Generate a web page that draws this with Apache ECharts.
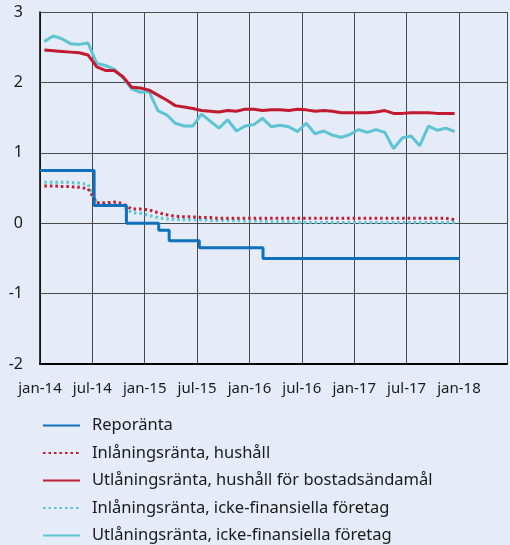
<!DOCTYPE html>
<html>
<head>
<meta charset="utf-8">
<script src="https://cdn.jsdelivr.net/npm/echarts@6/dist/echarts.min.js"></script>
<style>
  html, body { margin: 0; padding: 0; background: #e5ebf7; }
  #chart { width: 510px; height: 545px; }
</style>
</head>
<body>
<div id="chart"></div>
<script>
// months counted from jan-14 (0); monthly values sit mid-month
const tickLabels = ['jan-14', 'jul-14', 'jan-15', 'jul-15', 'jan-16', 'jul-16', 'jan-17', 'jul-17', 'jan-18']

// repo rate: change dates (months from jan-14) and new level
const repoDates = [0, 6.2, 9.9, 13.6, 14.8, 18.25, 25.55, 48.1]
const repoValues = [0.75, 0.25, 0, -0.1, -0.25, -0.35, -0.5, -0.5]

const depositHouseholds = [
  0.53, 0.53, 0.52, 0.52, 0.51, 0.49, 0.29, 0.29, 0.30, 0.28, 0.20, 0.20,
  0.19, 0.15, 0.12, 0.10, 0.09, 0.09, 0.08, 0.08, 0.07, 0.07, 0.07, 0.07,
  0.07, 0.07, 0.07, 0.07, 0.07, 0.07, 0.07, 0.07, 0.07, 0.07, 0.07, 0.07,
  0.07, 0.07, 0.07, 0.07, 0.07, 0.07, 0.07, 0.07, 0.07, 0.07, 0.07, 0.05,
]
const lendingHouseholds = [
  2.46, 2.45, 2.44, 2.43, 2.42, 2.39, 2.22, 2.17, 2.17, 2.08, 1.93, 1.92,
  1.89, 1.82, 1.75, 1.67, 1.65, 1.63, 1.60, 1.59, 1.58, 1.60, 1.59, 1.62,
  1.62, 1.60, 1.61, 1.61, 1.60, 1.62, 1.61, 1.59, 1.60, 1.59, 1.57, 1.57,
  1.57, 1.57, 1.58, 1.60, 1.56, 1.56, 1.57, 1.57, 1.57, 1.56, 1.56, 1.56,
]
const depositCorporate = [
  0.58, 0.58, 0.58, 0.58, 0.57, 0.55, 0.28, 0.27, 0.27, 0.25, 0.15, 0.14,
  0.11, 0.08, 0.06, 0.055, 0.05, 0.05, 0.05, 0.04, 0.04, 0.04, 0.04, 0.03,
  0.03, 0.03, 0.02, 0.02, 0.02, 0.01, 0.01, 0.01, 0.01, 0.01, 0.01, 0.01,
  0.01, 0.01, 0.01, 0.01, 0.01, 0.01, 0.01, 0.01, 0.01, 0.01, 0.01, 0.01,
]
const lendingCorporate = [
  2.58, 2.66, 2.62, 2.55, 2.54, 2.56, 2.27, 2.24, 2.19, 2.07, 1.91, 1.86,
  1.87, 1.60, 1.54, 1.42, 1.38, 1.38, 1.55, 1.45, 1.35, 1.47, 1.31, 1.38,
  1.40, 1.49, 1.37, 1.39, 1.37, 1.30, 1.42, 1.27, 1.31, 1.25, 1.22, 1.26,
  1.33, 1.29, 1.33, 1.29, 1.06, 1.21, 1.24, 1.10, 1.38, 1.32, 1.35, 1.30,
]

const monthly = (vals) => vals.map((v, i) => [i + 0.5, v])

const chart = echarts.init(document.getElementById('chart'))
const font = 'Noto Sans'
chart.setOption({
  backgroundColor: '#e5ebf7',
  animation: false,
  textStyle: { fontFamily: font },
  grid: { left: 40, right: 0, top: 12, height: 352 },
  legend: {
    orient: 'vertical',
    left: 42,
    top: 417,
    height: 160,
    padding: 0,
    itemWidth: 37,
    itemHeight: 14,
    itemGap: 10.5,
    itemStyle: { opacity: 0 },
    textStyle: { fontFamily: font, fontSize: 16.5, color: '#1a1a1a', padding: [0, 0, 0, 7] },
    data: [
      'Reporänta',
      'Inlåningsränta, hushåll',
      'Utlåningsränta, hushåll för bostadsändamål',
      'Inlåningsränta, icke-finansiella företag',
      'Utlåningsränta, icke-finansiella företag',
    ],
  },
  xAxis: {
    type: 'value',
    min: 0,
    max: 53.5,
    interval: 6,
    axisLine: { onZero: false, lineStyle: { color: '#000', width: 2 } },
    axisTick: { show: false },
    axisLabel: {
      fontSize: 15,
      color: '#1a1a1a',
      margin: 17,
      formatter: (v) => (v % 6 === 0 ? tickLabels[v / 6] || '' : ''),
    },
    splitLine: { show: true, lineStyle: { color: '#4a4a4a', width: 1 } },
  },
  yAxis: {
    type: 'value',
    min: -2,
    max: 3,
    interval: 1,
    axisLine: { show: true, onZero: false, lineStyle: { color: '#000', width: 1.5 } },
    axisTick: { show: false },
    axisLabel: { fontSize: 16, color: '#1a1a1a', margin: 17, formatter: (v) => String(v) },
    splitLine: { lineStyle: { color: '#4a4a4a', width: 1 } },
  },
  series: [
    {
      name: 'Utlåningsränta, icke-finansiella företag',
      type: 'line',
      symbol: 'none',
      data: monthly(lendingCorporate),
      lineStyle: { color: '#5cc4d2', width: 3 },
      itemStyle: { color: '#5cc4d2' },
    },
    {
      name: 'Utlåningsränta, hushåll för bostadsändamål',
      type: 'line',
      symbol: 'none',
      data: monthly(lendingHouseholds),
      lineStyle: { color: '#c21a30', width: 3 },
      itemStyle: { color: '#c21a30' },
    },
    {
      name: 'Inlåningsränta, icke-finansiella företag',
      type: 'line',
      symbol: 'none',
      data: monthly(depositCorporate),
      lineStyle: { color: '#5cc4d2', width: 3, type: [2.5, 3] },
      itemStyle: { color: '#5cc4d2' },
    },
    {
      name: 'Inlåningsränta, hushåll',
      type: 'line',
      symbol: 'none',
      data: monthly(depositHouseholds),
      lineStyle: { color: '#c21a30', width: 3, type: [2.5, 3] },
      itemStyle: { color: '#c21a30' },
    },
    {
      name: 'Reporänta',
      type: 'line',
      symbol: 'none',
      step: 'end',
      data: repoDates.map((d, i) => [d, repoValues[i]]),
      lineStyle: { color: '#0f70be', width: 3 },
      itemStyle: { color: '#0f70be' },
    },
  ],
})
</script>
</body>
</html>
